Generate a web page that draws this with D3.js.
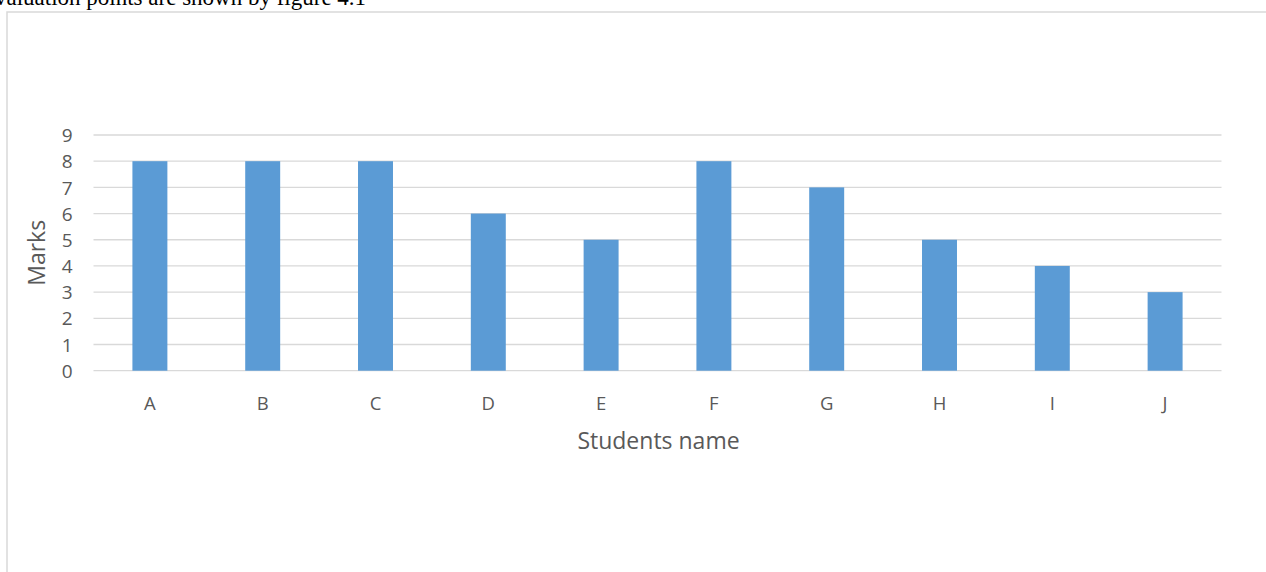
<!DOCTYPE html>
<html>
<head>
<meta charset="utf-8">
<script src="https://cdn.jsdelivr.net/npm/d3@7"></script>
<style>
  html, body { margin: 0; padding: 0; background: #fff; overflow: hidden; }
  svg { display: block; }
</style>
</head>
<body>
<svg id="chart" width="1266" height="572"></svg>
<script>
// Marks obtained by each student
const students = ["A", "B", "C", "D", "E", "F", "G", "H", "I", "J"];
const marks = [8, 8, 8, 6, 5, 8, 7, 5, 4, 3];
const yTicks = [0, 1, 2, 3, 4, 5, 6, 7, 8, 9];

const svg = d3.select("#chart");
const W = 1266, H = 572;

// Caption line from the surrounding document text
svg.append("text")
  .attr("x", -5).attr("y", 5)
  .attr("font-family", "'Liberation Serif', 'Times New Roman', serif")
  .attr("font-size", 23)
  .attr("fill", "#000")
  .text("valuation points are shown by figure 4.1");

// Chart frame
svg.append("rect")
  .attr("x", 7).attr("y", 12)
  .attr("width", W + 10).attr("height", H)
  .attr("fill", "#fff")
  .attr("stroke", "#d9d9d9")
  .attr("stroke-width", 1.5);

const plot = { left: 93.5, right: 1221.5, top: 135, bottom: 370.7 };

const x = d3.scaleBand()
  .domain(students)
  .range([plot.left, plot.right])
  .paddingInner(0.69)
  .paddingOuter(0.345);

const y = d3.scaleLinear()
  .domain([0, 9])
  .range([plot.bottom, plot.top]);

const font = "'Open Sans', 'Noto Sans', 'Liberation Sans', sans-serif";

// Horizontal gridlines
svg.append("g")
  .selectAll("line")
  .data(yTicks)
  .join("line")
  .attr("x1", plot.left).attr("x2", plot.right)
  .attr("y1", d => y(d)).attr("y2", d => y(d))
  .attr("stroke", "#d9d9d9")
  .attr("stroke-width", 1.3);

// Bars
svg.append("g")
  .selectAll("rect")
  .data(students)
  .join("rect")
  .attr("x", (d) => x(d))
  .attr("width", x.bandwidth())
  .attr("y", (d, i) => y(marks[i]))
  .attr("height", (d, i) => y(0) - y(marks[i]))
  .attr("fill", "#5b9bd5");

// Y axis labels
const yAxis = svg.append("g")
  .attr("transform", `translate(${plot.left - 21},0)`)
  .call(d3.axisLeft(y).tickValues(yTicks).tickSize(0).tickPadding(0));
yAxis.select(".domain").remove();
yAxis.selectAll("text")
  .attr("font-family", font)
  .attr("font-size", 19)
  .attr("fill", "#595959")
  .attr("dy", "0.35em");

// X axis labels
const xAxis = svg.append("g")
  .attr("transform", `translate(0,${plot.bottom})`)
  .call(d3.axisBottom(x).tickSize(0).tickPadding(33));
xAxis.select(".domain").remove();
xAxis.selectAll("text")
  .attr("font-family", font)
  .attr("font-size", 18.5)
  .attr("fill", "#595959")
  .attr("dy", "0.35em");

// Axis titles
svg.append("text")
  .attr("x", (plot.left + plot.right) / 2 + 1)
  .attr("y", 449)
  .attr("text-anchor", "middle")
  .attr("font-family", font)
  .attr("font-size", 23)
  .attr("fill", "#595959")
  .text("Students name");

svg.append("text")
  .attr("transform", `translate(45,${(plot.top + plot.bottom) / 2}) rotate(-90)`)
  .attr("text-anchor", "middle")
  .attr("font-family", font)
  .attr("font-size", 23)
  .attr("fill", "#595959")
  .text("Marks");
</script>
</body>
</html>
